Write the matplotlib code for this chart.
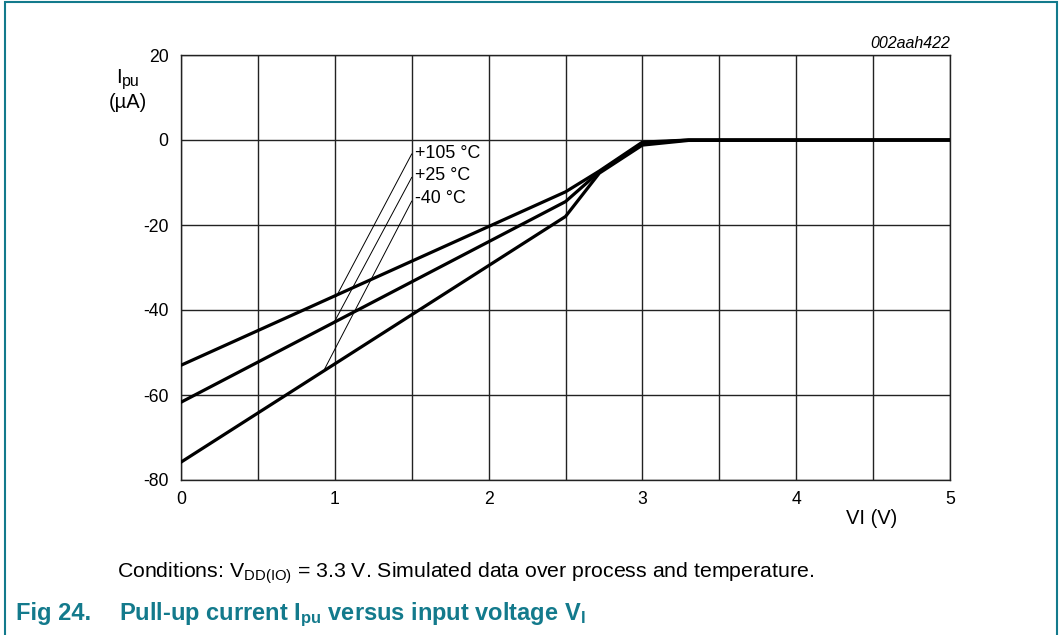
import matplotlib
matplotlib.use('Agg')
import matplotlib.pyplot as plt
from matplotlib.patches import Rectangle

plt.rcParams['font.family'] = ['Liberation Sans', 'DejaVu Sans']
plt.rcParams['mathtext.fontset'] = 'custom'
plt.rcParams['mathtext.rm'] = 'Liberation Sans'
plt.rcParams['mathtext.it'] = 'Liberation Sans:italic'
plt.rcParams['mathtext.bf'] = 'Liberation Sans:bold'
plt.rcParams['axes.unicode_minus'] = False

# data
vi = [0, 2.5, 2.72, 3.0, 3.3, 5]
ipu_105 = [-53.0, -12.2, -7.3, -0.5, 0, 0]
ipu_25 = [-61.7, -14.5, -7.5, -0.8, 0, 0]
ipu_m40 = [-75.8, -18.0, -7.8, -1.2, -0.1, 0]

labels = ['+105 °C', '+25 °C', '-40 °C']
label_y = [-3.1, -8.4, -13.8]
leader_start = [(1.50, -3.3), (1.50, -8.8), (1.50, -14.4)]
leader_end = [(1.01, -36.8), (1.0, -42.6), (0.935, -53.8)]

xticks = [0, 1, 2, 3, 4, 5]
yticks = [-80, -60, -40, -20, 0, 20]

teal = '#137a8c'

fig = plt.figure(figsize=(10.61, 6.35), dpi=100)
ax = fig.add_axes([181/1061, 1-480/635, (950-181)/1061, (480-55)/635])

for c in (ipu_105, ipu_25, ipu_m40):
    ax.plot(vi, c, color='black', lw=2.3, solid_joinstyle='miter', zorder=3)

for (x0, y0), (x1, y1) in zip(leader_start, leader_end):
    ax.plot([x0, x1], [y0, y1], color='black', lw=0.7, zorder=3)
for lab, y in zip(labels, label_y):
    ax.text(1.52, y, lab, fontsize=12.9, va='center', ha='left')

ax.set_xlim(0, 5)
ax.set_ylim(-80, 20)
ax.set_xticks(xticks)
ax.set_yticks(yticks)
ax.set_xticks([0.5, 1.5, 2.5, 3.5, 4.5], minor=True)
ax.grid(True, which='both', color='#222222', lw=1.0)
ax.tick_params(which='both', length=0, labelsize=12.7)
ax.tick_params(axis='x', pad=8)
ax.tick_params(axis='y', pad=9)
for s in ax.spines.values():
    s.set_linewidth(1.0)
    s.set_color('#222222')

# y axis label: I with subscript pu, then unit
fig.text(116/1061, 1-83/635, 'I', fontsize=14.5, ha='left', va='baseline')
fig.text(122/1061, 1-86/635, 'pu', fontsize=11.5, ha='left', va='baseline')
fig.text(128/1061, 1-102/635, '(µA)', fontsize=14.5, ha='center', va='center')
fig.text(950/1061, 1-43/635, '002aah422', fontsize=11.5, style='italic', ha='right', va='center')
fig.text(872/1061, 1-519/635, 'VI (V)', fontsize=14.5, ha='center', va='center')

fig.text(117/1061, 1-578/635,
         r'Conditions: V$_{\mathrm{DD(IO)}}$ = 3.3 V. Simulated data over process and temperature.',
         fontsize=15.3, ha='left', va='baseline')
fig.text(16/1061, 1-620/635, 'Fig 24.', fontsize=17, fontweight='bold', color=teal, va='baseline')
fig.text(119/1061, 1-620/635, r'Pull-up current I$_{\mathbf{pu}}$ versus input voltage V$_{\mathbf{I}}$',
         fontsize=17, fontweight='bold', color=teal, va='baseline')

fig.patches.append(Rectangle((5/1061, -0.1), (1057-5)/1061, 1.1-2/635, transform=fig.transFigure,
                             fill=False, edgecolor=teal, lw=1.5))

fig.savefig('out.png', dpi=100)
